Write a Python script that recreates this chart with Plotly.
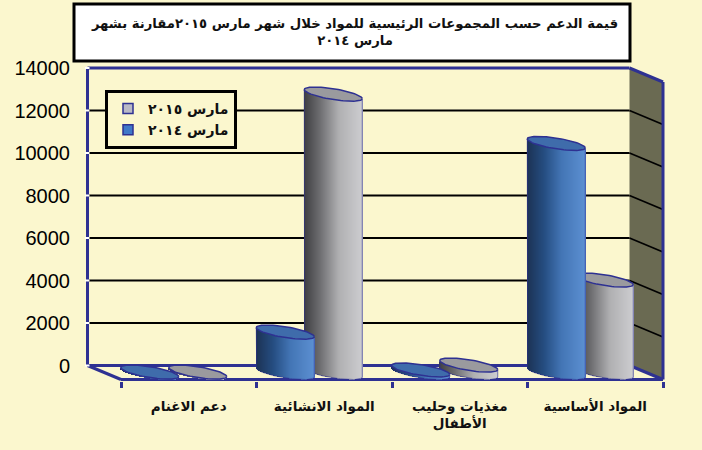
import plotly.graph_objects as go
import numpy as np

# ---- data ----
categories = ["دعم الاغنام", "المواد الانشائية", "مغذيات وحليب<br>الأطفال", "المواد الأساسية"]
series_names = ["مارس ٢٠١٥", "مارس ٢٠١٤"]
values_2015 = [20, 13100, 350, 4350]
values_2014 = [20, 1900, 120, 10780]
y_ticks = [0, 2000, 4000, 6000, 8000, 10000, 12000, 14000]
title_lines = ["قيمة الدعم حسب المجموعات الرئيسية للمواد خلال شهر مارس ٢٠١٥مقارنة بشهر", "مارس ٢٠١٤"]

# ---- scene geometry ----
W, H = 702, 450
BG = "#FBF7CE"
NAVY = "#2E3192"
L, R, T, B = 85, 666, 64, 381
PX_X = 135.5              # pixels per category
PX_Y = 297.5 / 14000      # pixels per value unit
DX = 33.5 / PX_X          # depth of the floor, category units
DY = 14 / PX_Y            # depth of the floor, value units
x_range = [-0.5 - (121 - L) / PX_X, 3.5 + (R - 663) / PX_X]
y_range = [(365.5 - B) / PX_Y, (365.5 - T) / PX_Y]
BAR_W = 58 / PX_X
OFFSETS = {0: 9 / PX_X, 1: -39 / PX_X}     # gray, blue centres relative to category centre
MID_DY = 7 / PX_Y
EA, EB = 4.5 / PX_Y, 5.4 / PX_Y             # cap tilt and half height, value units
STRIPS = 58


def ramp(stops, f):
    xs = [s[0] for s in stops]
    return "rgb(%d,%d,%d)" % tuple(
        np.interp(f, xs, [s[1][c] for s in stops]) for c in range(3))


GRAY_STOPS = [(0, (62, 62, 66)), (0.25, (105, 105, 108)), (0.6, (176, 176, 178)), (1, (205, 205, 208))]
BLUE_STOPS = [(0, (28, 50, 84)), (0.3, (38, 78, 130)), (0.6, (68, 118, 182)), (1, (92, 144, 210))]

fig = go.Figure()


def add_series(vals, idx, stops, cap_color, xa, ya):
    xs, bases, heights, colors = [], [], [], []
    for c, v in enumerate(vals):
        cx = c + OFFSETS[idx]
        fs = (np.arange(STRIPS) + 0.5) / STRIPS * 2 - 1
        for f in fs:
            low = EA * f + EB * np.sqrt(1 - f * f)
            xs.append(cx + f * BAR_W / 2)
            bases.append(-MID_DY - low)
            heights.append(v)
            colors.append(ramp(stops, (f + 1) / 2))
    fig.add_trace(go.Bar(x=xs, y=heights, base=bases, width=[1.4 / PX_X] * len(xs),
                         marker=dict(color=colors, line=dict(width=0)),
                         showlegend=False, hoverinfo="skip", xaxis=xa, yaxis=ya))
    for c, v in enumerate(vals):
        cx = c + OFFSETS[idx]
        t = np.linspace(0, 2 * np.pi, 73)
        cap_x = cx + np.cos(t) * BAR_W / 2
        cap_y = v - MID_DY - (EA * np.cos(t) + EB * np.sin(t))
        # silhouette of the body
        lt = np.linspace(np.pi, 0, 37)
        sx = np.concatenate([[cx - BAR_W / 2], cx + np.cos(lt) * BAR_W / 2, [cx + BAR_W / 2]])
        sy = np.concatenate([[v - MID_DY + EA], -MID_DY - (EA * np.cos(lt) + EB * np.sin(lt)), [v - MID_DY - EA]])
        fig.add_trace(go.Scatter(x=sx, y=sy, mode="lines", line=dict(color=NAVY, width=1),
                                 opacity=0.6, showlegend=False, hoverinfo="skip", xaxis=xa, yaxis=ya))
        fig.add_trace(go.Scatter(x=cap_x, y=cap_y, mode="lines", fill="toself", fillcolor=cap_color,
                                 line=dict(color=NAVY, width=1.5), showlegend=False,
                                 hoverinfo="skip", xaxis=xa, yaxis=ya))


add_series(values_2015, 0, GRAY_STOPS, "#9A9A9E", "x", "y")
add_series(values_2014, 1, BLUE_STOPS, "#3F6CAB", "x2", "y2")

for name, col in zip(series_names, ["#B9B9C6", "#3F78C8"]):
    fig.add_trace(go.Scatter(x=[None], y=[None], mode="markers", name=name,
                             marker=dict(symbol="square", size=10, color=col, line=dict(color=NAVY, width=1.5))))

# ---- walls, floor, gridlines ----
xb0, xb1, xf0, xf1 = -0.5 - DX, 3.5 - DX, -0.5, 3.5
shapes = []


def seg(x0, y0, x1, y1, color=NAVY, width=3):
    shapes.append(dict(type="line", xref="x", yref="y", x0=x0, y0=y0, x1=x1, y1=y1,
                       line=dict(color=color, width=width), layer="below"))


shapes.append(dict(type="path", xref="x", yref="y", layer="below", fillcolor="#6A6A52", line=dict(width=0),
                   path=f"M{xb1},14000 L{xf1},{14000 - DY} L{xf1},{-DY} L{xb1},0 Z"))
for v in y_ticks[1:-1]:
    seg(xb0, v, xb1, v, "#000000", 1.8)
    seg(xb1, v, xf1, v - DY, "#000000", 1.8)
seg(xb0, 0, xb0, 14000)
seg(xb0, 14000, xb1, 14000)
seg(xb1, 14000, xf1, 14000 - DY)
seg(xf1, 14000 - DY, xf1, -DY)
seg(xb0, 0, xb1, 0)
seg(xb0, 0, xf0, -DY)
seg(xf0, -DY, xf1, -DY)
seg(xb1, 0, xf1, -DY)
for v in y_ticks:
    seg(xb0 - 3 / PX_X, v, xb0 + 2 / PX_X, v, "#FFFFFF", 2)

# title box and legend box are placed in paper coordinates
px = lambda p: (p - L) / (R - L)
py = lambda p: (B - p) / (B - T)
shapes.append(dict(type="rect", xref="paper", yref="paper", x0=px(74), x1=px(630), y0=py(61), y1=py(4),
                   fillcolor="#FFFFFF", line=dict(color="#000000", width=3), layer="above"))

axis_common = dict(showgrid=False, zeroline=False, showline=False, fixedrange=True)
fig.update_layout(
    width=W, height=H, autosize=False,
    margin=dict(l=L, r=W - R, t=T, b=H - B, pad=0),
    paper_bgcolor=BG, plot_bgcolor=BG,
    barmode="overlay", bargap=0,
    shapes=shapes,
    title=dict(text="<br>".join(title_lines), xref="container", yref="container",
               x=355 / W, y=1 - 28 / H, xanchor="center", yanchor="middle",
               font=dict(family="DejaVu Sans", size=13.2, color="#111111", weight=700)),
    xaxis=dict(range=x_range, tickmode="array", tickvals=[0, 1, 2, 3], ticktext=categories,
               ticks="", ticklabelstandoff=15,
               tickfont=dict(family="DejaVu Sans", size=13.5, color="#111111", weight=700),
               minor=dict(tickmode="array", tickvals=[-0.5, 0.5, 1.5, 2.5, 3.5], ticks="outside",
                          ticklen=6, tickwidth=3, tickcolor=NAVY),
               **axis_common),
    yaxis=dict(range=y_range, tickmode="array", tickvals=y_ticks, ticktext=[str(v) for v in y_ticks],
               ticks="", ticklabelstandoff=14,
               tickfont=dict(family="Liberation Sans", size=20, color="#000000"), **axis_common),
    xaxis2=dict(range=x_range, overlaying="x", visible=False, fixedrange=True),
    yaxis2=dict(range=y_range, overlaying="y", visible=False, fixedrange=True),
    legend=dict(x=px(105), y=py(90), xanchor="left", yanchor="top", bgcolor=BG,
                bordercolor="#000000", borderwidth=3, traceorder="normal",
                font=dict(family="DejaVu Sans", size=14, color="#111111", weight=700),
                itemwidth=30),
    hovermode=False,
)

fig.write_html("out.html", config={"displayModeBar": False},
               post_script="document.body.style.margin='0';document.body.style.overflow='hidden';")
